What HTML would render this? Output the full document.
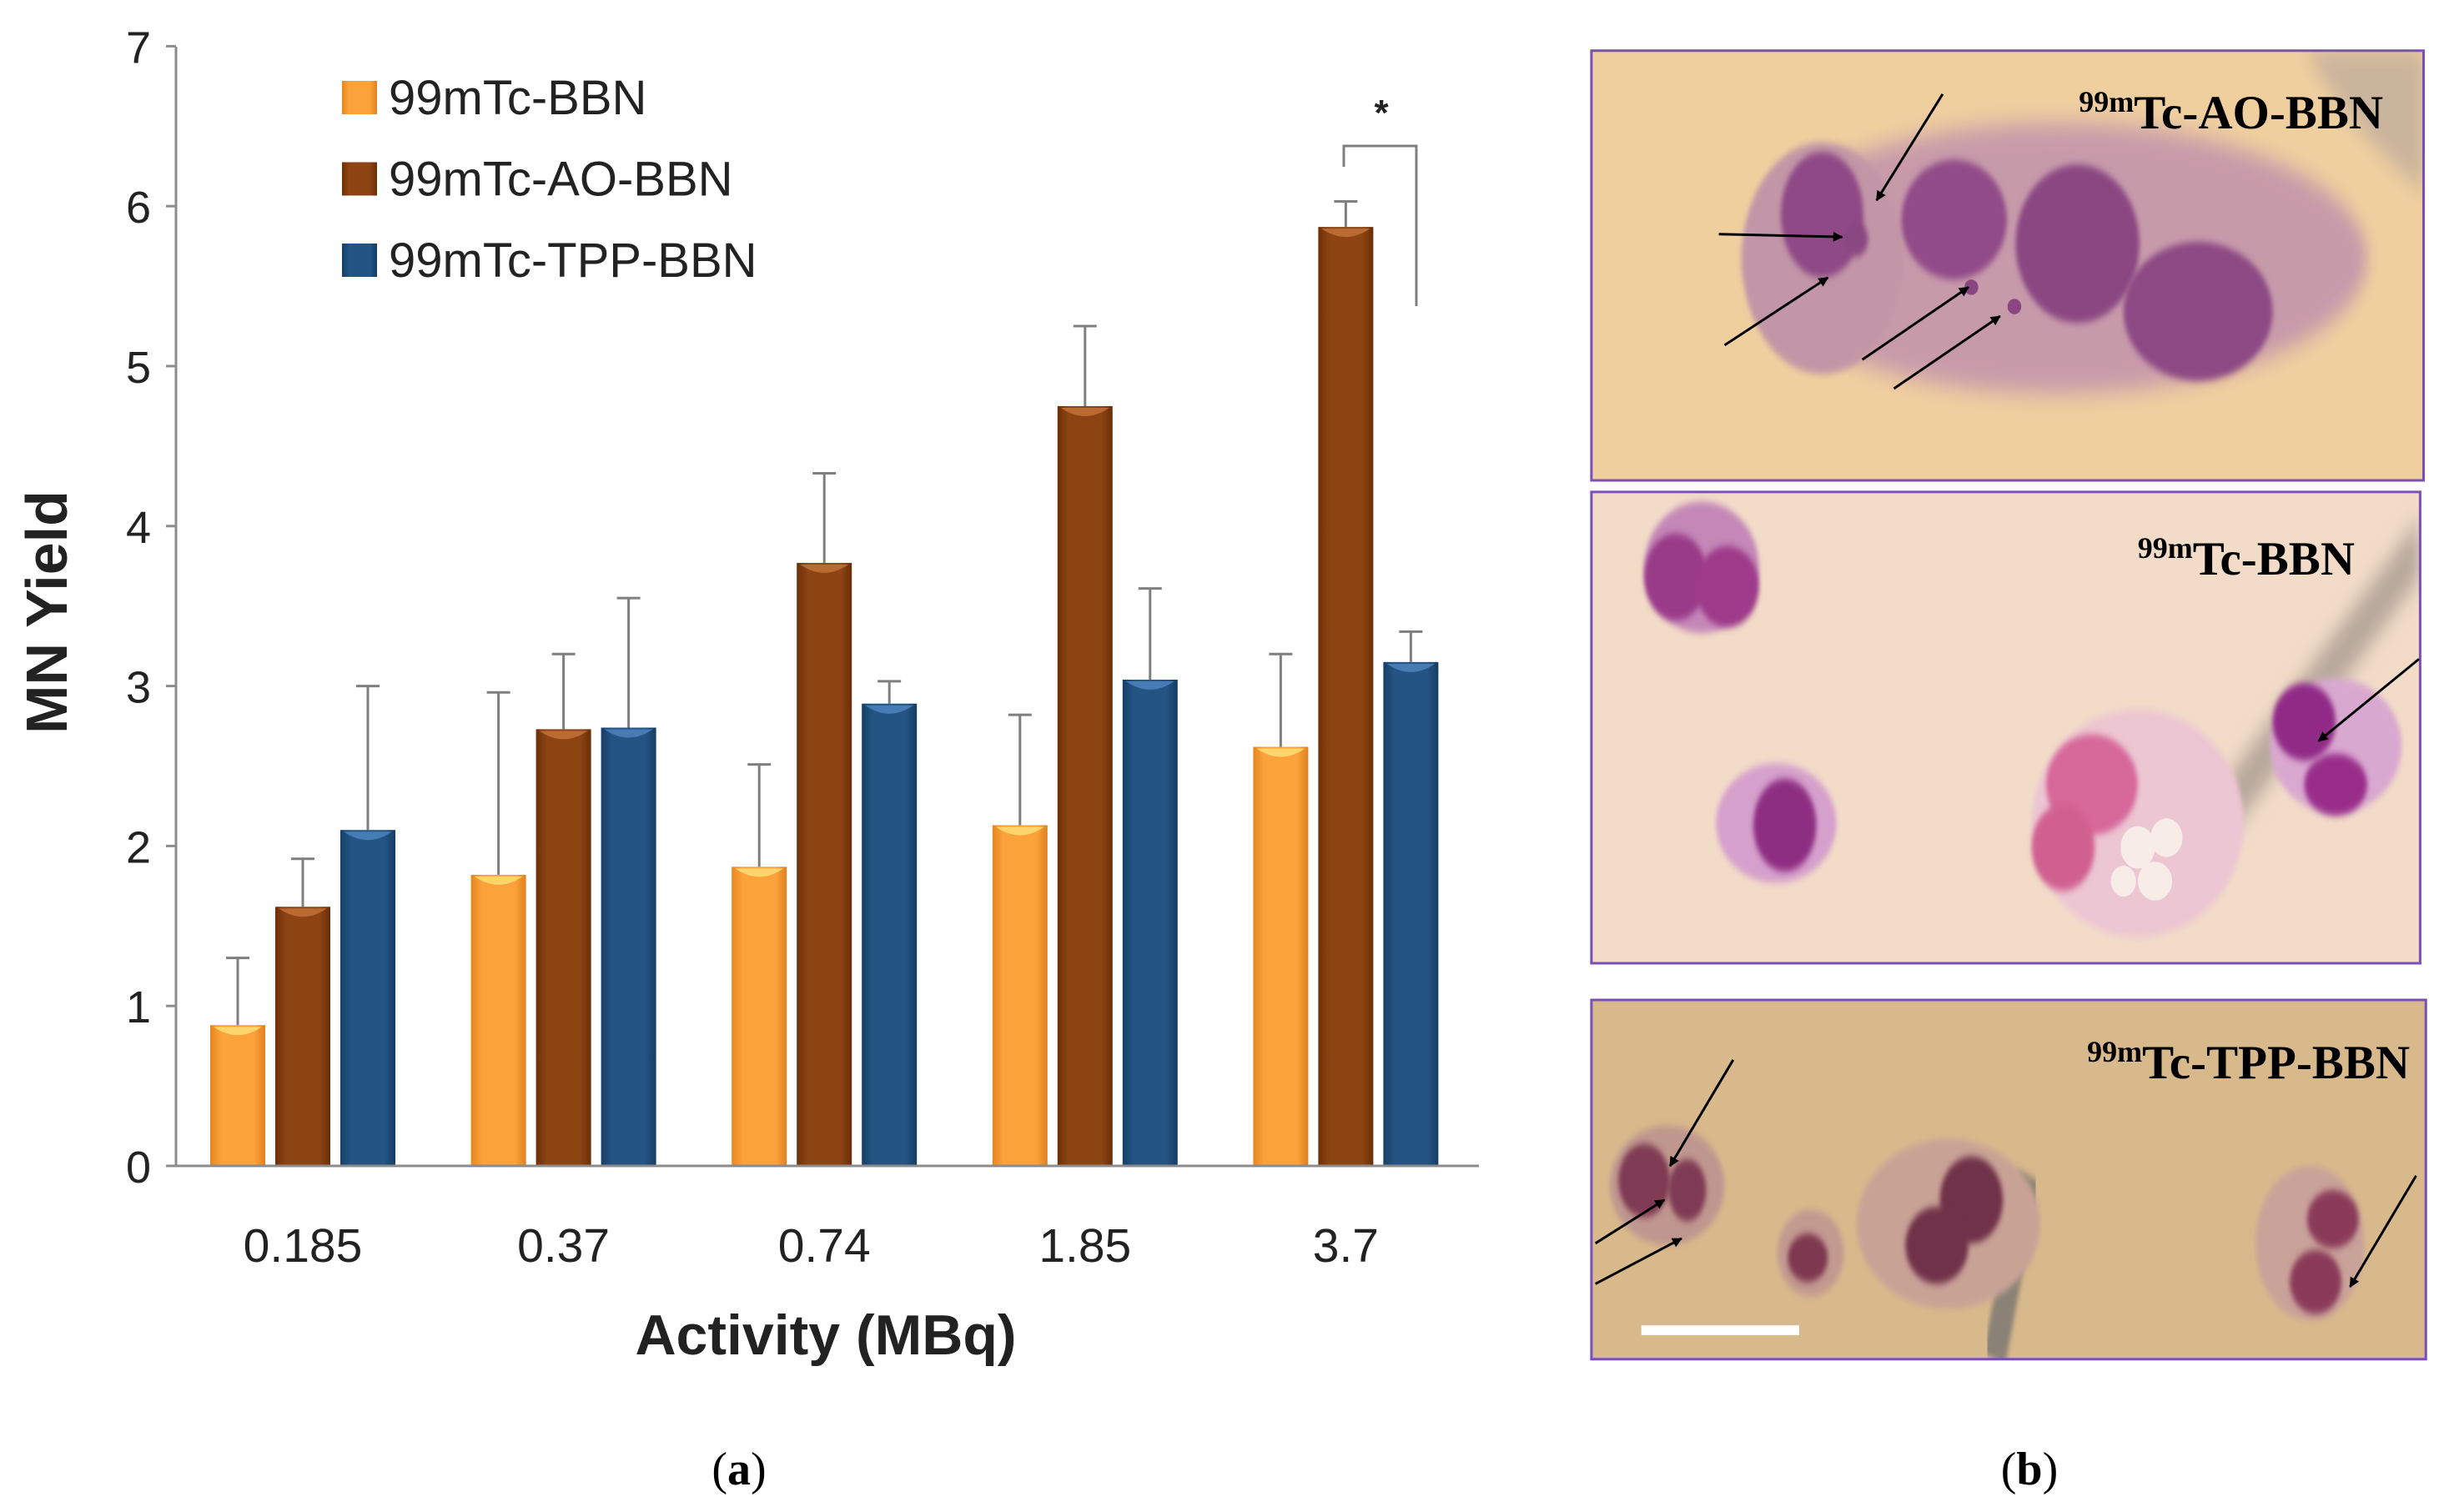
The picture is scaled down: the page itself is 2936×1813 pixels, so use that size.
<!DOCTYPE html>
<html><head><meta charset="utf-8"><style>
html,body{margin:0;padding:0;background:#fff;}
svg{display:block;}
text{font-family:"Liberation Sans",sans-serif;}
.serif{font-family:"Liberation Serif",serif;}
</style></head>
<body>
<svg id="fig" width="2936" height="1813" viewBox="0 0 2936 1813">
<defs>
<linearGradient id="gO" x1="0" x2="1"><stop offset="0" stop-color="#e8861f"/><stop offset="0.2" stop-color="#fba23a"/><stop offset="0.8" stop-color="#fba23a"/><stop offset="1" stop-color="#e08020"/></linearGradient>
<linearGradient id="gB" x1="0" x2="1"><stop offset="0" stop-color="#6e3008"/><stop offset="0.2" stop-color="#8c4413"/><stop offset="0.8" stop-color="#8c4413"/><stop offset="1" stop-color="#6a2e08"/></linearGradient>
<linearGradient id="gT" x1="0" x2="1"><stop offset="0" stop-color="#153f66"/><stop offset="0.2" stop-color="#245484"/><stop offset="0.8" stop-color="#245484"/><stop offset="1" stop-color="#143d63"/></linearGradient>
<filter id="bl" x="-20%" y="-20%" width="140%" height="140%"><feGaussianBlur stdDeviation="4"/></filter>
<filter id="bl2" x="-20%" y="-20%" width="140%" height="140%"><feGaussianBlur stdDeviation="12"/></filter>
<marker id="ah" viewBox="0 0 10 10" refX="9" refY="5" markerWidth="14" markerHeight="12" markerUnits="userSpaceOnUse" orient="auto"><path d="M0,0 L10,5 L0,10 z" fill="#000"/></marker>
</defs>
<g id="chart"></g>

<g>
<clipPath id="c1"><rect x="58" y="55" width="1450" height="445"/></clipPath>
<clipPath id="c2"><rect x="58" y="512" width="1444" height="488"/></clipPath>
<clipPath id="c3"><rect x="58" y="1038" width="1454" height="372"/></clipPath>
<g transform="translate(1868,-3) scale(0.688,1.158)">
 <g clip-path="url(#c1)">
  <rect x="58" y="55" width="1450" height="445" fill="#f0cf9f"/>
  <path d="M1300,55 L1508,55 L1508,200 Q1400,150 1300,55z" fill="#c9b49c" filter="url(#bl2)"/>
  <ellipse cx="870" cy="270" rx="540" ry="140" fill="#c79aaa" filter="url(#bl2)"/>
  <ellipse cx="460" cy="270" rx="140" ry="120" fill="#c296a6" filter="url(#bl)"/>
  <ellipse cx="460" cy="225" rx="72" ry="65" fill="#8e4a86" filter="url(#bl)"/>
  <ellipse cx="690" cy="230" rx="92" ry="62" fill="#914c88" filter="url(#bl)"/>
  <ellipse cx="905" cy="255" rx="108" ry="82" fill="#8a4682" filter="url(#bl)"/>
  <ellipse cx="1115" cy="325" rx="130" ry="72" fill="#8c4884" filter="url(#bl)"/>
  <ellipse cx="520" cy="250" rx="20" ry="18" fill="#8a4682" filter="url(#bl)"/>
  <ellipse cx="720" cy="300" rx="12" ry="8" fill="#8a4682"/>
  <ellipse cx="795" cy="320" rx="12" ry="8" fill="#8a4682"/>
 </g>
 <g clip-path="url(#c2)">
  <rect x="58" y="512" width="1444" height="488" fill="#f2dcc8"/>
  <path d="M1500,540 L1140,830 L1180,860 L1502,600z" fill="#b8a89c" filter="url(#bl2)"/>
  <ellipse cx="250" cy="590" rx="100" ry="68" fill="#c487b8" filter="url(#bl)"/>
  <ellipse cx="205" cy="600" rx="55" ry="45" fill="#9a3a88" filter="url(#bl)"/>
  <ellipse cx="295" cy="610" rx="55" ry="42" fill="#9e3a8a" filter="url(#bl)"/>
  <ellipse cx="380" cy="855" rx="105" ry="62" fill="#d5a0cc" filter="url(#bl)"/>
  <ellipse cx="395" cy="857" rx="55" ry="48" fill="#8e2d82" filter="url(#bl)"/>
  <ellipse cx="1010" cy="855" rx="185" ry="118" fill="#ecc6d2" filter="url(#bl)"/>
  <ellipse cx="930" cy="815" rx="80" ry="52" fill="#d7689a" filter="url(#bl)"/>
  <ellipse cx="880" cy="880" rx="55" ry="45" fill="#d06090" filter="url(#bl)"/>
  <ellipse cx="1010" cy="880" rx="30" ry="22" fill="#f7ece8"/>
  <ellipse cx="1060" cy="870" rx="28" ry="20" fill="#f7ece8"/>
  <ellipse cx="1040" cy="915" rx="30" ry="20" fill="#f7ece8"/>
  <ellipse cx="985" cy="915" rx="22" ry="16" fill="#f7ece8"/>
  <ellipse cx="1355" cy="775" rx="115" ry="70" fill="#d9a8d0" filter="url(#bl)"/>
  <ellipse cx="1300" cy="750" rx="55" ry="40" fill="#902c86" filter="url(#bl)"/>
  <ellipse cx="1355" cy="815" rx="55" ry="32" fill="#992f8a" filter="url(#bl)"/>
 </g>
 <g clip-path="url(#c3)">
  <rect x="58" y="1038" width="1454" height="372" fill="#d8b98b"/>
  <path d="M820,1220 L760,1410" stroke="#8a8276" stroke-width="40" fill="none" filter="url(#bl)"/>
  <ellipse cx="190" cy="1230" rx="100" ry="62" fill="#c0978f" filter="url(#bl)"/>
  <ellipse cx="150" cy="1225" rx="45" ry="38" fill="#7f3a52" filter="url(#bl)"/>
  <ellipse cx="225" cy="1235" rx="33" ry="32" fill="#7f3a52" filter="url(#bl)"/>
  <ellipse cx="440" cy="1300" rx="58" ry="45" fill="#c39a90" filter="url(#bl)"/>
  <ellipse cx="435" cy="1305" rx="35" ry="25" fill="#7e3950" filter="url(#bl)"/>
  <ellipse cx="680" cy="1270" rx="160" ry="88" fill="#c9a296" filter="url(#bl)"/>
  <ellipse cx="720" cy="1245" rx="55" ry="45" fill="#70304a" filter="url(#bl)"/>
  <ellipse cx="660" cy="1292" rx="55" ry="40" fill="#70304a" filter="url(#bl)"/>
  <ellipse cx="1310" cy="1290" rx="95" ry="80" fill="#c9a29a" filter="url(#bl)"/>
  <ellipse cx="1350" cy="1265" rx="45" ry="30" fill="#8a3a58" filter="url(#bl)"/>
  <ellipse cx="1320" cy="1330" rx="45" ry="33" fill="#8a3a58" filter="url(#bl)"/>
  <rect x="145" y="1375" width="275" height="10" fill="#ffffff"/>
 </g>
 <g fill="none" stroke="#7a4fb8" stroke-width="3">
  <rect x="58" y="55" width="1450" height="445" vector-effect="non-scaling-stroke"/>
  <rect x="58" y="512" width="1444" height="488" vector-effect="non-scaling-stroke"/>
  <rect x="58" y="1038" width="1454" height="372" vector-effect="non-scaling-stroke"/>
 </g>
</g>
<g stroke="#000" stroke-width="3" fill="none" id="arrows"></g>
<text class="serif" x="2857" y="154" font-size="57" font-weight="bold" text-anchor="end"><tspan font-size="36" dy="-20">99m</tspan><tspan dy="20">Tc-AO-BBN</tspan></text>
<text class="serif" x="2823" y="689" font-size="57" font-weight="bold" text-anchor="end"><tspan font-size="36" dy="-20">99m</tspan><tspan dy="20">Tc-BBN</tspan></text>
<text class="serif" x="2889" y="1293" font-size="57" font-weight="bold" text-anchor="end"><tspan font-size="36" dy="-20">99m</tspan><tspan dy="20">Tc-TPP-BBN</tspan></text>
</g>
<text class="serif" x="886" y="1780" font-size="56" text-anchor="middle">(<tspan font-weight="bold">a</tspan>)</text>
<text class="serif" x="2433" y="1780" font-size="56" text-anchor="middle">(<tspan font-weight="bold">b</tspan>)</text>
</svg>
<script>
const categories = ["0.185","0.37","0.74","1.85","3.7"];
const seriesNames = ["99mTc-BBN","99mTc-AO-BBN","99mTc-TPP-BBN"];
const bbnValues = [0.88,1.82,1.87,2.13,2.62];
const aoValues = [1.62,2.73,3.77,4.75,5.87];
const tppValues = [2.1,2.74,2.89,3.04,3.15];
const bbnErrTop = [1.3,2.96,2.51,2.82,3.2];
const aoErrTop = [1.92,3.2,4.33,5.25,6.03];
const tppErrTop = [3.0,3.55,3.03,3.61,3.34];
const yTicks = [0,1,2,3,4,5,6,7];

const NS="http://www.w3.org/2000/svg";
const g=document.getElementById('chart');
function mk(t,a,p){const e=document.createElementNS(NS,t);for(const k in a)e.setAttribute(k,a[k]);(p||g).appendChild(e);return e;}
// arrows in panel coordinates, mapped to page
const arrowSegs=[[670,100,555,210],[280,245,495,248],[290,360,470,290],[530,375,715,300],[585,405,770,330],[1500,685,1325,770],[305,1100,195,1210],[65,1290,185,1245],[65,1332,215,1285],[1495,1220,1380,1335]];
const ag=document.getElementById('arrows');
arrowSegs.forEach(s=>{
 const m=(x,y)=>[1868+x*0.688,-3+y*1.158];
 const a=m(s[0],s[1]),b=m(s[2],s[3]);
 let l=mk('line',{x1:a[0],y1:a[1],x2:b[0],y2:b[1],'marker-end':'url(#ah)'},ag);
 
 
});
const X0=211,X1=1773,Y0=1398,unit=191.8;
function y(v){return Y0-v*unit;}
function xc(i){return 363+i*312.6;}
const fills=["url(#gO)","url(#gB)","url(#gT)"];
const tops=["#ffe27a","#c8743c","#4f86bf"];
const vals=[bbnValues,aoValues,tppValues],errs=[bbnErrTop,aoErrTop,tppErrTop];
let e=mk('line',{x1:X0,y1:56,x2:X0,y2:Y0,stroke:'#8c8c8c','stroke-width':3});


yTicks.forEach(t=>{
 let l=mk('line',{x1:X0-12,y1:y(t),x2:X0,y2:y(t),stroke:'#8c8c8c','stroke-width':3});
 
 
 let tx=mk('text',{x:X0-30,y:y(t)+20,'font-size':54,'text-anchor':'end',fill:'#222'});
 tx.textContent=t;
 
 
});
categories.forEach((c,i)=>{
 vals.forEach((arr,s)=>{
  const cx=xc(i)+(s-1)*78,w=66,v=arr[i];
  let er=mk('line',{x1:cx,y1:y(errs[s][i]),x2:cx,y2:y(v),stroke:'#7f7f7f','stroke-width':3});
  
  
  let cap=mk('line',{x1:cx-14,y1:y(errs[s][i]),x2:cx+14,y2:y(errs[s][i]),stroke:'#7f7f7f','stroke-width':3});
  
  
  let r=mk('rect',{x:cx-w/2,y:y(v),width:w,height:v*unit,fill:fills[s]});
  
  
  let tp=mk('path',{d:`M${cx-w/2+4},${y(v)+2} L${cx+w/2-4},${y(v)+2} Q${cx},${y(v)+22} ${cx-w/2+4},${y(v)+2}z`,fill:tops[s],opacity:0.8});
  
  
 });
 let tx=mk('text',{x:xc(i),y:1513,'font-size':57,'text-anchor':'middle',fill:'#222'});
 tx.textContent=c;
 
 
});
e=mk('line',{x1:X0,y1:Y0,x2:X1,y2:Y0,stroke:'#8c8c8c','stroke-width':3});


seriesNames.forEach((n,s)=>{
 const ly=117+s*97.5;
 let r=mk('rect',{x:410,y:ly-20,width:42,height:40,fill:fills[s]});
 
 
 let t=mk('text',{x:466,y:ly+20,'font-size':58,fill:'#222'});
 t.textContent=n;
 
 
});
let br=mk('path',{d:'M1611,200 L1611,175 L1698,175 L1698,367',fill:'none',stroke:'#7f7f7f','stroke-width':3});


let st=mk('text',{x:1656,y:150,'font-size':44,'font-weight':'bold','text-anchor':'middle',fill:'#222'});
st.textContent='*';


let xt=mk('text',{x:990,y:1624,'font-size':68,'font-weight':'bold','text-anchor':'middle',fill:'#222'});
xt.textContent='Activity (MBq)';


let yt=mk('text',{x:0,y:0,'font-size':70,'font-weight':'bold','text-anchor':'middle',fill:'#222',transform:'translate(80,734) rotate(-90)'});
yt.textContent='MN Yield';


</script>
</body></html>
